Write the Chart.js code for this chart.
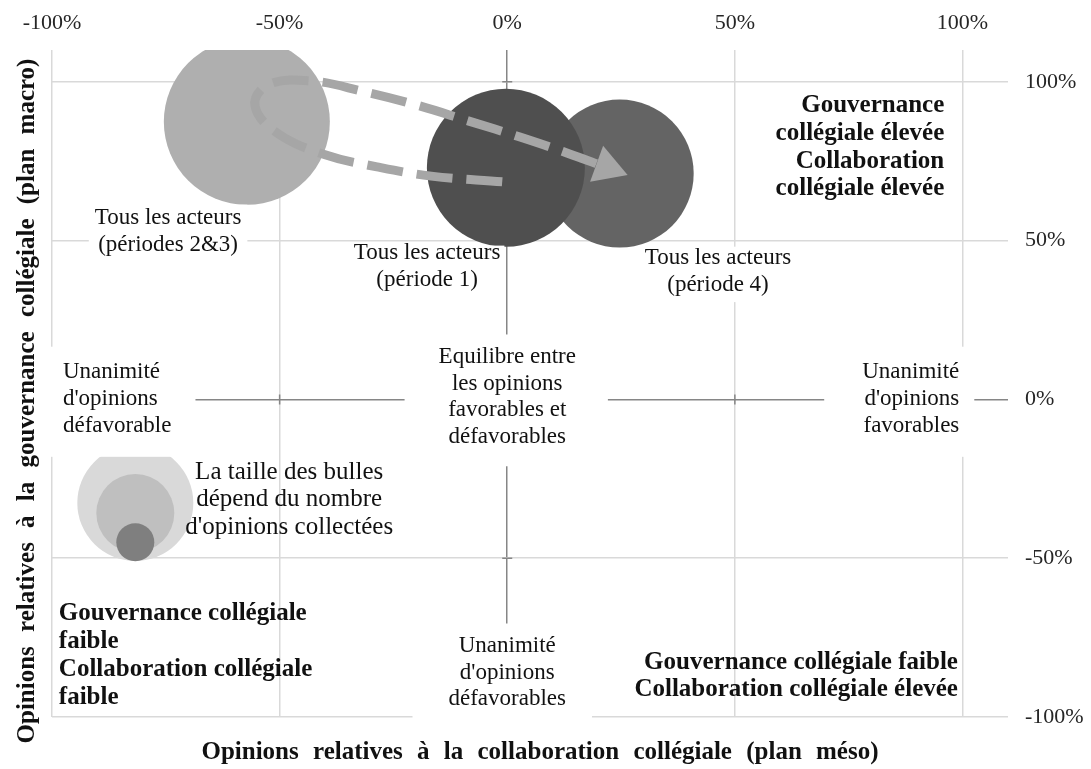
<!DOCTYPE html>
<html>
<head>
<meta charset="utf-8">
<title>Opinions relatives à la gouvernance et à la collaboration collégiales</title>
<style>
  html, body { margin: 0; padding: 0; background: #fff; }
  canvas { display: block; }
</style>
</head>
<body>
<canvas id="chart" width="1091" height="769"></canvas>
<script src="https://cdn.jsdelivr.net/npm/chart.js@4"></script>
<script>
// axis ticks (%)
var xTicks = [-100, -50, 0, 50, 100];
var yTicks = [-100, -50, 0, 50, 100];

// groups: x = collaboration (plan méso), y = gouvernance (plan macro), in %
var groups = ['Tous les acteurs (périodes 2&3)', 'Tous les acteurs (période 1)', 'Tous les acteurs (période 4)'];
var collab = [-57.2, -0.3, 24.7];
var gouv = [87.4, 72.9, 71.1];
var bubbleR = [83, 79, 74];

// bubble size key
var keyX = [-81.7, -81.7, -81.7];
var keyY = [-32.6, -35.8, -45.0];
var keyR = [58, 39, 19];

// trajectory période 1 -> périodes 2&3 -> période 4
var pathX = [-1.1, -16.7, -28.6, -40.0, -50.6, -55.4, -52.6, -43.3, -31.2, -20.0, -8.6, 2.8, 13.1, 21.9];
var pathY = [68.5, 70.3, 73.2, 77.0, 83.9, 92.4, 99.0, 100.3, 96.8, 92.7, 87.7, 82.6, 77.6, 73.0];

var SERIF = '"Liberation Serif", "Times New Roman", serif';

// text notes placed in data units
var notes = [
  { lines: ['Tous les acteurs', '(périodes 2&3)'], x: -74.5, y: 57.1, align: 'center', pad: [0, 6, 4, 6] },
  { lines: ['Tous les acteurs', '(période 1)'], x: -17.6, y: 46.1, align: 'center', pad: [-6, 4, 4, 4] },
  { lines: ['Tous les acteurs', '(période 4)'], x: 46.3, y: 44.5, align: 'center', pad: [-2, 4, 4, 4] },
  { lines: ['Unanimité', "d'opinions", 'défavorable'], x: -97.6, y: 8.6, align: 'left', pad: [12, 24, 18, 24] },
  { lines: ['Equilibre entre', 'les opinions', 'favorables et', 'défavorables'], x: 0, y: 13.4, align: 'center', pad: [9, 32, 16, 34] },
  { lines: ['Unanimité', "d'opinions", 'favorables'], x: 99.3, y: 8.6, align: 'right', pad: [12, 15, 18, 38] },
  { lines: ['Unanimité', "d'opinions", 'défavorables'], x: 0, y: -77.6, align: 'center', pad: [9, 26, 20, 36] },
  { lines: ['La taille des bulles', 'dépend du nombre', "d'opinions collectées"], x: -47.9, y: -22.9, align: 'center', size: 25, lh: 27.5 },
  { lines: ['Gouvernance', 'collégiale élevée', 'Collaboration', 'collégiale élevée'], x: 96.0, y: 92.4, align: 'right', bold: true, size: 25, lh: 27.7 },
  { lines: ['Gouvernance collégiale', 'faible', 'Collaboration collégiale', 'faible'], x: -98.5, y: -67.3, align: 'left', bold: true, size: 25, lh: 28.3 },
  { lines: ['Gouvernance collégiale faible', 'Collaboration collégiale élevée'], x: 99.0, y: -82.7, align: 'right', bold: true, size: 25, lh: 27 }
];

var xTitle = 'Opinions relatives à la collaboration collégiale (plan méso)';
var yTitle = 'Opinions relatives à la gouvernance collégiale (plan macro)';

var groupColors = ['#afafaf', '#4f4f4f', '#646464'];
var groupOrder = [3, 1, 2];
var keyColors = ['#d9d9d9', '#bfbfbf', '#7f7f7f'];

var datasets = [];
groups.forEach(function (g, i) {
  datasets.push({
    type: 'bubble',
    label: g,
    data: [{ x: collab[i], y: gouv[i], r: bubbleR[i] }],
    backgroundColor: groupColors[i],
    borderWidth: 0,
    order: groupOrder[i]
  });
});
datasets.push({
  type: 'bubble',
  label: 'taille',
  data: keyX.map(function (x, i) { return { x: x, y: keyY[i], r: keyR[i] }; }),
  backgroundColor: keyColors,
  borderWidth: 0,
  order: 4
});
datasets.push({
  type: 'line',
  label: 'trajectoire',
  data: pathX.map(function (x, i) { return { x: x, y: pathY[i] }; }),
  borderColor: '#a6a6a6',
  borderWidth: 9,
  borderDash: [36, 14],
  tension: 0.4,
  fill: false,
  pointStyle: 'triangle',
  pointRadius: pathX.map(function (x, i) { return i === pathX.length - 1 ? 22 : 0; }),
  rotation: 110,
  pointBackgroundColor: '#a6a6a6',
  pointBorderWidth: 0,
  order: 0
});

function noteFont(n) {
  return (n.bold ? 'bold ' : '') + (n.size || 23) + 'px ' + SERIF;
}

var notesPlugin = {
  id: 'notes',
  beforeDatasetsDraw: function (chart) {
    var ctx = chart.ctx, xs = chart.scales.x, ys = chart.scales.y;
    var x0 = xs.getPixelForValue(0), y0 = ys.getPixelForValue(0);
    ctx.save();
    ctx.strokeStyle = '#868686';
    ctx.lineWidth = 1.5;
    ctx.beginPath();
    yTicks.forEach(function (v) {
      var py = ys.getPixelForValue(v);
      ctx.moveTo(x0 - 5, py); ctx.lineTo(x0 + 5, py);
    });
    xTicks.forEach(function (v) {
      var px = xs.getPixelForValue(v);
      ctx.moveTo(px, y0 - 5); ctx.lineTo(px, y0 + 5);
    });
    ctx.stroke();
    ctx.restore();
  },
  afterDatasetsDraw: function (chart) {
    var ctx = chart.ctx, xs = chart.scales.x, ys = chart.scales.y;
    ctx.save();
    var placed = notes.map(function (n) {
      ctx.font = noteFont(n);
      var w = Math.max.apply(null, n.lines.map(function (l) { return ctx.measureText(l).width; }));
      var lh = n.lh || 26.7;
      var px = xs.getPixelForValue(n.x), py = ys.getPixelForValue(n.y);
      var left = n.align === 'left' ? px : (n.align === 'right' ? px - w : px - w / 2);
      return { n: n, w: w, lh: lh, px: px, py: py, left: left };
    });
    ctx.fillStyle = '#fff';
    placed.forEach(function (p) {
      if (!p.n.pad) return;
      var pad = p.n.pad;
      ctx.fillRect(p.left - pad[3], p.py - p.lh / 2 - pad[0], p.w + pad[1] + pad[3], p.lh * p.n.lines.length + pad[0] + pad[2]);
    });
    ctx.fillStyle = '#111';
    ctx.textBaseline = 'middle';
    placed.forEach(function (p) {
      ctx.font = noteFont(p.n);
      ctx.textAlign = p.n.align;
      p.n.lines.forEach(function (l, i) {
        ctx.fillText(l, p.px, p.py + i * p.lh);
      });
    });
    ctx.restore();
  },
  afterDraw: function (chart) {
    var ctx = chart.ctx;
    ctx.save();
    ctx.fillStyle = '#111';
    ctx.font = 'bold 25px ' + SERIF;
    if ('wordSpacing' in ctx) ctx.wordSpacing = '8px';
    ctx.textAlign = 'center';
    ctx.textBaseline = 'middle';
    ctx.fillText(xTitle, 540, 753);
    ctx.translate(28, 401);
    ctx.rotate(-Math.PI / 2);
    ctx.fillText(yTitle, 0, 0);
    ctx.restore();
  }
};

var gridColor = function (c) { return c.tick && c.tick.value === 0 ? '#868686' : '#d9d9d9'; };

new Chart(document.getElementById('chart').getContext('2d'), {
  type: 'bubble',
  data: { datasets: datasets },
  plugins: [notesPlugin],
  options: {
    responsive: false,
    animation: false,
    events: [],
    layout: { autoPadding: false, padding: { left: 52, bottom: 52, top: 0, right: 0 } },
    plugins: { legend: { display: false }, tooltip: { enabled: false } },
    scales: {
      x: {
        type: 'linear',
        position: 'top',
        min: -100,
        max: 110,
        afterBuildTicks: function (s) { s.ticks = xTicks.map(function (v) { return { value: v }; }); },
        afterFit: function (s) { s.height = 50; },
        border: { display: false },
        grid: { color: gridColor, lineWidth: 1.5, drawTicks: false },
        ticks: {
          padding: 14,
          color: '#262626',
          font: { family: SERIF, size: 22 },
          callback: function (v) { return v + '%'; }
        }
      },
      y: {
        type: 'linear',
        position: 'right',
        min: -100,
        max: 110,
        afterBuildTicks: function (s) { s.ticks = yTicks.map(function (v) { return { value: v }; }); },
        afterFit: function (s) { s.width = 83; },
        border: { display: false },
        grid: { color: gridColor, lineWidth: 1.5, drawTicks: false },
        ticks: {
          padding: 17,
          color: '#262626',
          font: { family: SERIF, size: 22 },
          callback: function (v) { return v + '%'; }
        }
      }
    }
  }
});
</script>
</body>
</html>
